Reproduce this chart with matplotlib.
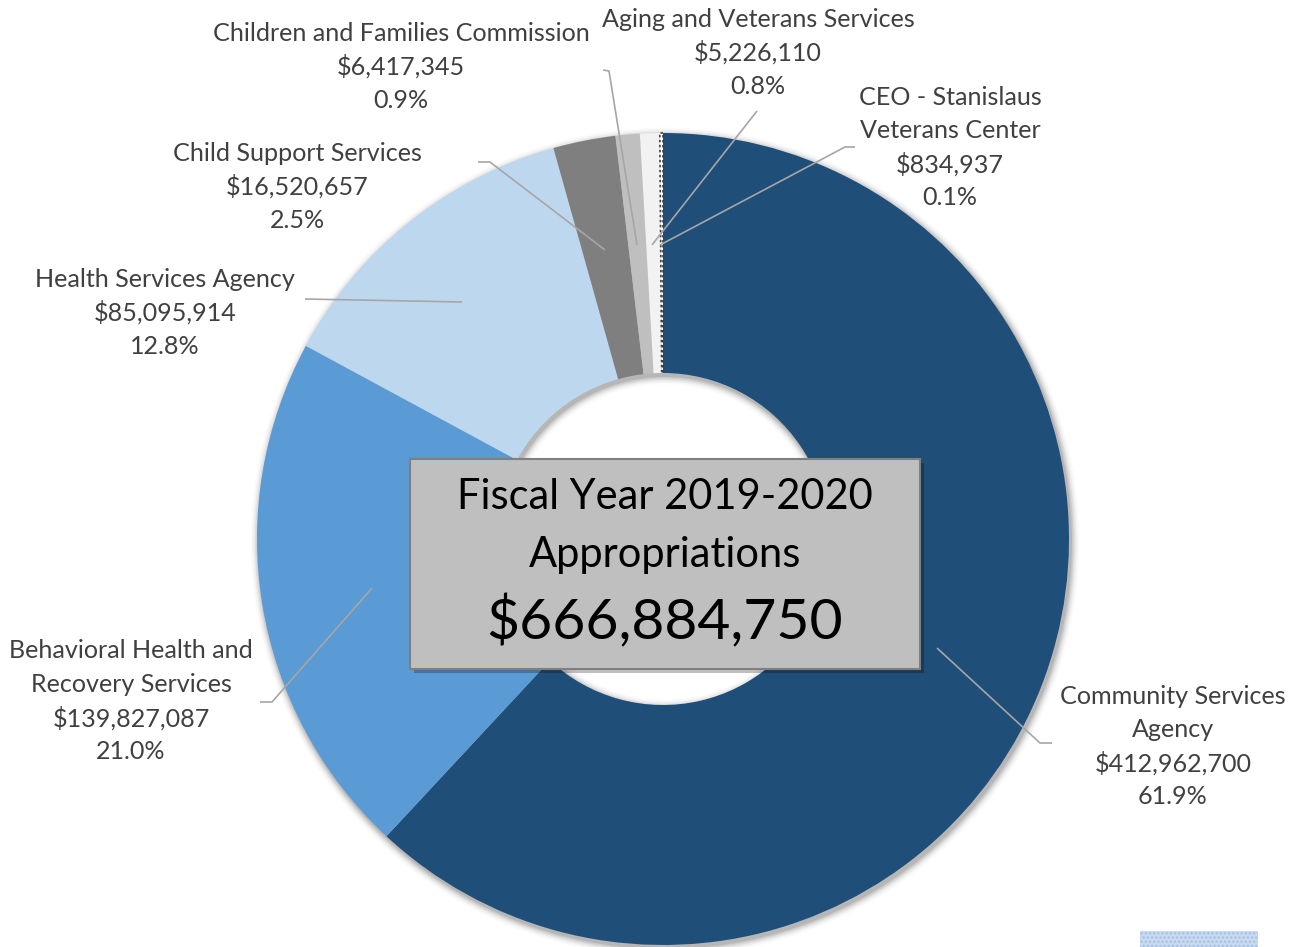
import matplotlib
matplotlib.use("Agg")
import matplotlib.pyplot as plt
from matplotlib.patches import Wedge, Rectangle

# ---- data ----
categories = [
    "Community Services Agency",
    "Behavioral Health and Recovery Services",
    "Health Services Agency",
    "Child Support Services",
    "Children and Families Commission",
    "Aging and Veterans Services",
    "CEO - Stanislaus Veterans Center",
]
label_lines = [
    ["Community Services", "Agency"],
    ["Behavioral Health and", "Recovery Services"],
    ["Health Services Agency"],
    ["Child Support Services"],
    ["Children and Families Commission"],
    ["Aging and Veterans Services"],
    ["CEO - Stanislaus", "Veterans Center"],
]
values = [412962700, 139827087, 85095914, 16520657, 6417345, 5226110, 834937]
percent_labels = ["61.9%", "21.0%", "12.8%", "2.5%", "0.9%", "0.8%", "0.1%"]
total = 666884750
title_lines = ["Fiscal Year 2019-2020", "Appropriations"]

# ---- styles / layout ----
colors = ["#1F4E79", "#5B9BD5", "#BDD7EE", "#7F7F7F", "#BFBFBF", "#F2F2F2", "#FFFFFF"]
FONT = "Lato"
W, H = 1299, 947
CX, CY, R = 663, 539, 406
HOLE = 166

def Y(y):
    return H - y

# label text centers (x, top-line y) and leader-line points in pixel coords
label_pos = [
    (1173, 696), (131, 651), (165, 279), (297, 153), (401, 33), (758, 19), (950, 97),
]
leaders = [
    [(1052, 743), (1040, 743), (937, 648)],
    [(260, 702), (272, 702), (372, 588)],
    [(305, 299), (462, 302)],
    [(478, 162), (490, 162), (605, 250)],
    [(603, 70), (609, 71), (637, 245)],
    [(757, 111), (652, 245)],
    [(855, 147), (845, 147), (660, 245)],
]

fig = plt.figure(figsize=(W / 100, H / 100), dpi=100)
ax = fig.add_axes([0, 0, 1, 1])
ax.set_xlim(0, W)
ax.set_ylim(0, H)
ax.set_aspect("equal")
ax.axis("off")

# soft shadow around ring
for i, a in enumerate([0.10, 0.08, 0.06, 0.04, 0.025, 0.015]):
    ax.add_patch(Wedge((CX + 2, Y(CY) - 3), R + 1 + i * 1.5, 0, 360,
                       width=R - HOLE + 2 + i * 3, facecolor="black", alpha=a,
                       edgecolor="none", zorder=1))

wedges, _ = ax.pie(values, colors=colors, startangle=90, counterclock=False,
                   center=(CX, Y(CY)), radius=R,
                   wedgeprops=dict(width=R - HOLE, edgecolor="none", zorder=2),
                   frame=True)
wedges[-1].set_edgecolor("#404040")
wedges[-1].set_linestyle((0, (1.5, 1.5)))
wedges[-1].set_linewidth(1.2)
ax.set_xlim(0, W)
ax.set_ylim(0, H)
ax.axis("off")

# labels
lh = 33.5
for lines, v, p, (x, y0), pts in zip(label_lines, values, percent_labels, label_pos, leaders):
    txt = lines + ["${:,}".format(v), p]
    for k, t in enumerate(txt):
        ax.text(x, Y(y0 + k * lh), t, ha="center", va="center", fontsize=18.1,
                color="#404040", family=FONT, zorder=5)
    xs = [q[0] for q in pts]
    ys = [Y(q[1]) for q in pts]
    ax.plot(xs, ys, color="#A6A6A6", lw=1.2, zorder=4, solid_capstyle="butt")

# center box
bx0, by0, bx1, by1 = 410, 459, 920, 669
ax.add_patch(Rectangle((bx0 + 4, Y(by1) - 4), bx1 - bx0, by1 - by0,
                       facecolor="black", alpha=0.25, edgecolor="none", zorder=5))
ax.add_patch(Rectangle((bx0, Y(by1)), bx1 - bx0, by1 - by0,
                       facecolor="#BFBFBF", edgecolor="#7F7F7F", lw=1.5, zorder=6))
bcx = (bx0 + bx1) / 2
ax.text(bcx, Y(497), title_lines[0], ha="center", va="center", fontsize=30,
        family=FONT, color="black", zorder=7)
ax.text(bcx, Y(555), title_lines[1], ha="center", va="center", fontsize=30,
        family=FONT, color="black", zorder=7)
ax.text(bcx, Y(622), "${:,}".format(total), ha="center", va="center", fontsize=41,
        family=FONT, color="black", zorder=7)

# small patterned artifact bottom-right
ax.add_patch(Rectangle((1140, Y(947)), 118, 16, facecolor="#C9D9EE",
                       edgecolor="#9EBFE6", hatch="....", lw=0, zorder=3))

fig.savefig("out.png", dpi=100)
